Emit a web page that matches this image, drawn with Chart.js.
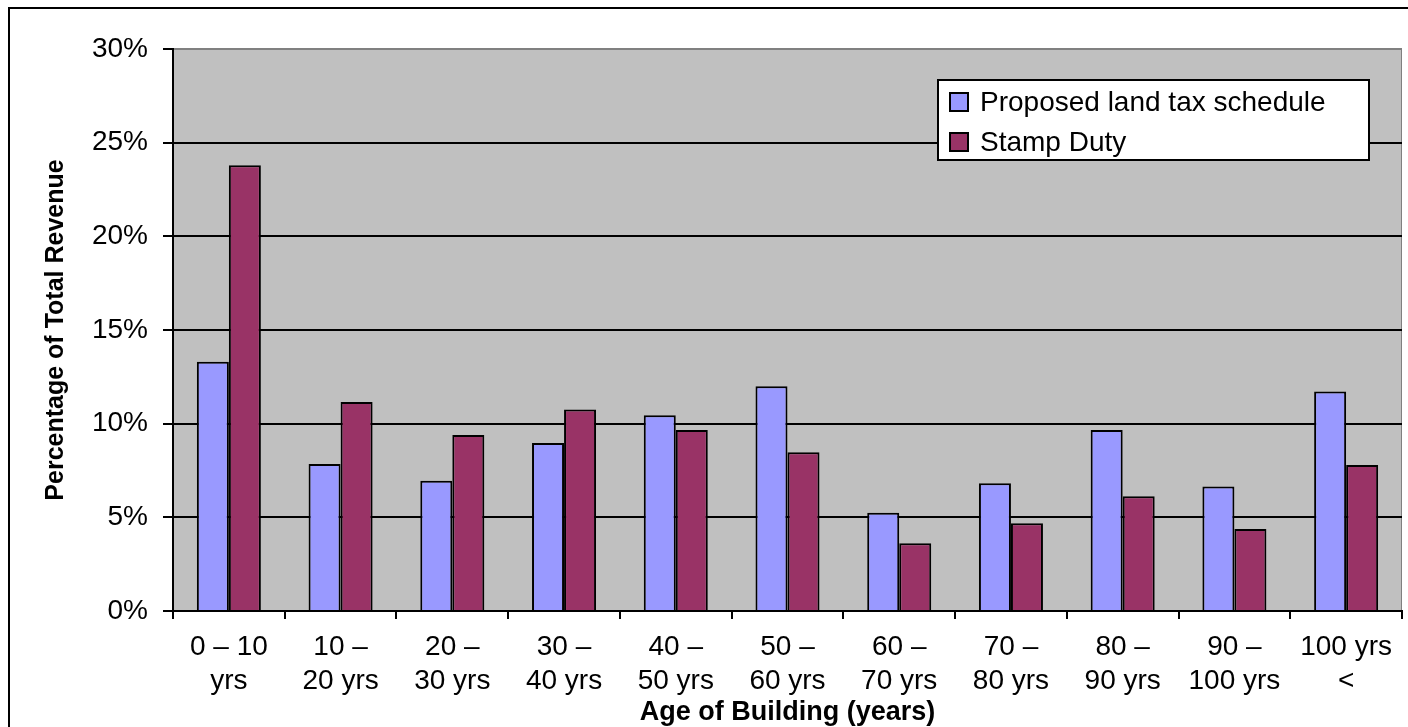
<!DOCTYPE html>
<html>
<head>
<meta charset="utf-8">
<script src="https://cdn.jsdelivr.net/npm/chart.js@4.4.1/dist/chart.umd.min.js"></script>
<style>
    html, body { margin: 0; padding: 0; background: #fff; }
    #chart-revenue { display: block; }
</style>
</head>
<body>
<canvas id="chart-revenue" width="1408" height="727"></canvas>
<script>
// building age bands, each split over two label lines
const categories = [
    ['0 \u2013 10', 'yrs'],
    ['10 \u2013', '20 yrs'],
    ['20 \u2013', '30 yrs'],
    ['30 \u2013', '40 yrs'],
    ['40 \u2013', '50 yrs'],
    ['50 \u2013', '60 yrs'],
    ['60 \u2013', '70 yrs'],
    ['70 \u2013', '80 yrs'],
    ['80 \u2013', '90 yrs'],
    ['90 \u2013', '100 yrs'],
    ['100 yrs', '<']
];
const seriesNames = ['Proposed land tax schedule', 'Stamp Duty'];
const landTax = [13.3, 7.85, 6.95, 8.97, 10.45, 12.0, 5.25, 6.82, 9.66, 6.65, 11.72];
const stampDuty = [23.8, 11.15, 9.4, 10.75, 9.66, 8.47, 3.62, 4.69, 6.13, 4.38, 7.8];
const yMax = 30;
const yStep = 5;

const FONT = '"Liberation Sans", Arial, sans-serif';

// gray plot area plus the outer chart frame
const backdrop = {
    id: 'backdrop',
    beforeDraw(chart) {
        const { ctx, chartArea: a } = chart;
        ctx.save();
        ctx.fillStyle = '#c0c0c0';
        ctx.fillRect(a.left, a.top, a.right - a.left, a.bottom - a.top);
        ctx.strokeStyle = '#808080';
        ctx.lineWidth = 1;
        ctx.strokeRect(a.left + 0.5, a.top + 0.5, a.right - a.left - 1, a.bottom - a.top - 1);
        ctx.restore();
    },
    afterDraw(chart) {
        const ctx = chart.ctx;
        ctx.save();
        ctx.strokeStyle = '#000';
        ctx.lineWidth = 2;
        ctx.strokeRect(9, 8, chart.width + 20, chart.height + 20);
        ctx.restore();
    }
};

// boxed legend sitting inside the plot area
const boxLegend = {
    id: 'boxLegend',
    afterDatasetsDraw(chart) {
        const ctx = chart.ctx;
        const x = 938, y = 80, w = 431, h = 80;
        ctx.save();
        ctx.fillStyle = '#fff';
        ctx.fillRect(x, y, w, h);
        ctx.strokeStyle = '#000';
        ctx.lineWidth = 2;
        ctx.strokeRect(x, y, w, h);
        ctx.font = '28px ' + FONT;
        ctx.textBaseline = 'middle';
        chart.data.datasets.forEach((ds, i) => {
            const cy = y + 22 + i * 40;
            ctx.fillStyle = ds.backgroundColor;
            ctx.fillRect(950, cy - 9, 18, 18);
            ctx.lineWidth = 2;
            ctx.strokeRect(950, cy - 9, 18, 18);
            ctx.fillStyle = '#000';
            ctx.fillText(ds.label, 980, cy + 1);
        });
        ctx.restore();
    }
};

const ctx = document.getElementById('chart-revenue').getContext('2d');
new Chart(ctx, {
    type: 'bar',
    data: {
        labels: categories,
        datasets: [
            {
                label: seriesNames[0],
                data: landTax,
                backgroundColor: '#9999ff',
                borderColor: '#000',
                borderWidth: 2
            },
            {
                label: seriesNames[1],
                data: stampDuty,
                backgroundColor: '#993366',
                borderColor: '#000',
                borderWidth: 2
            }
        ]
    },
    options: {
        responsive: false,
        animation: false,
        categoryPercentage: 0.573,
        barPercentage: 1.0,
        layout: { padding: { top: 49, right: 6, left: 0, bottom: 0 } },
        plugins: {
            legend: { display: false },
            tooltip: { enabled: false }
        },
        scales: {
            x: {
                grid: {
                    offset: true,
                    drawOnChartArea: false,
                    color: '#000',
                    lineWidth: 2,
                    tickLength: 8
                },
                border: { color: '#000', width: 2 },
                ticks: {
                    color: '#000',
                    font: { family: FONT, size: 28, lineHeight: 1.22 },
                    padding: 11,
                    maxRotation: 0,
                    autoSkip: false
                },
                title: {
                    display: true,
                    text: 'Age of Building (years)',
                    color: '#000',
                    font: { family: FONT, size: 27, weight: 'bold', lineHeight: 1 },
                    padding: { top: 0, bottom: 1 }
                },
                afterFit: s => { s.height = 116; }
            },
            y: {
                min: 0,
                max: yMax,
                grid: {
                    color: c => c.tick && c.tick.value === yMax ? '#808080' : '#000',
                    tickColor: '#000',
                    lineWidth: 2,
                    tickLength: 10
                },
                border: { color: '#000', width: 2 },
                ticks: {
                    stepSize: yStep,
                    color: '#000',
                    font: { family: FONT, size: 28 },
                    padding: 15,
                    callback: v => v + '%'
                },
                title: {
                    display: true,
                    text: 'Percentage of Total Revenue',
                    color: '#000',
                    font: { family: FONT, size: 25, weight: 'bold' },
                    padding: { top: 41, bottom: 0 }
                },
                afterFit: s => { s.width = 173; }
            }
        }
    },
    plugins: [backdrop, boxLegend]
});
</script>
</body>
</html>
